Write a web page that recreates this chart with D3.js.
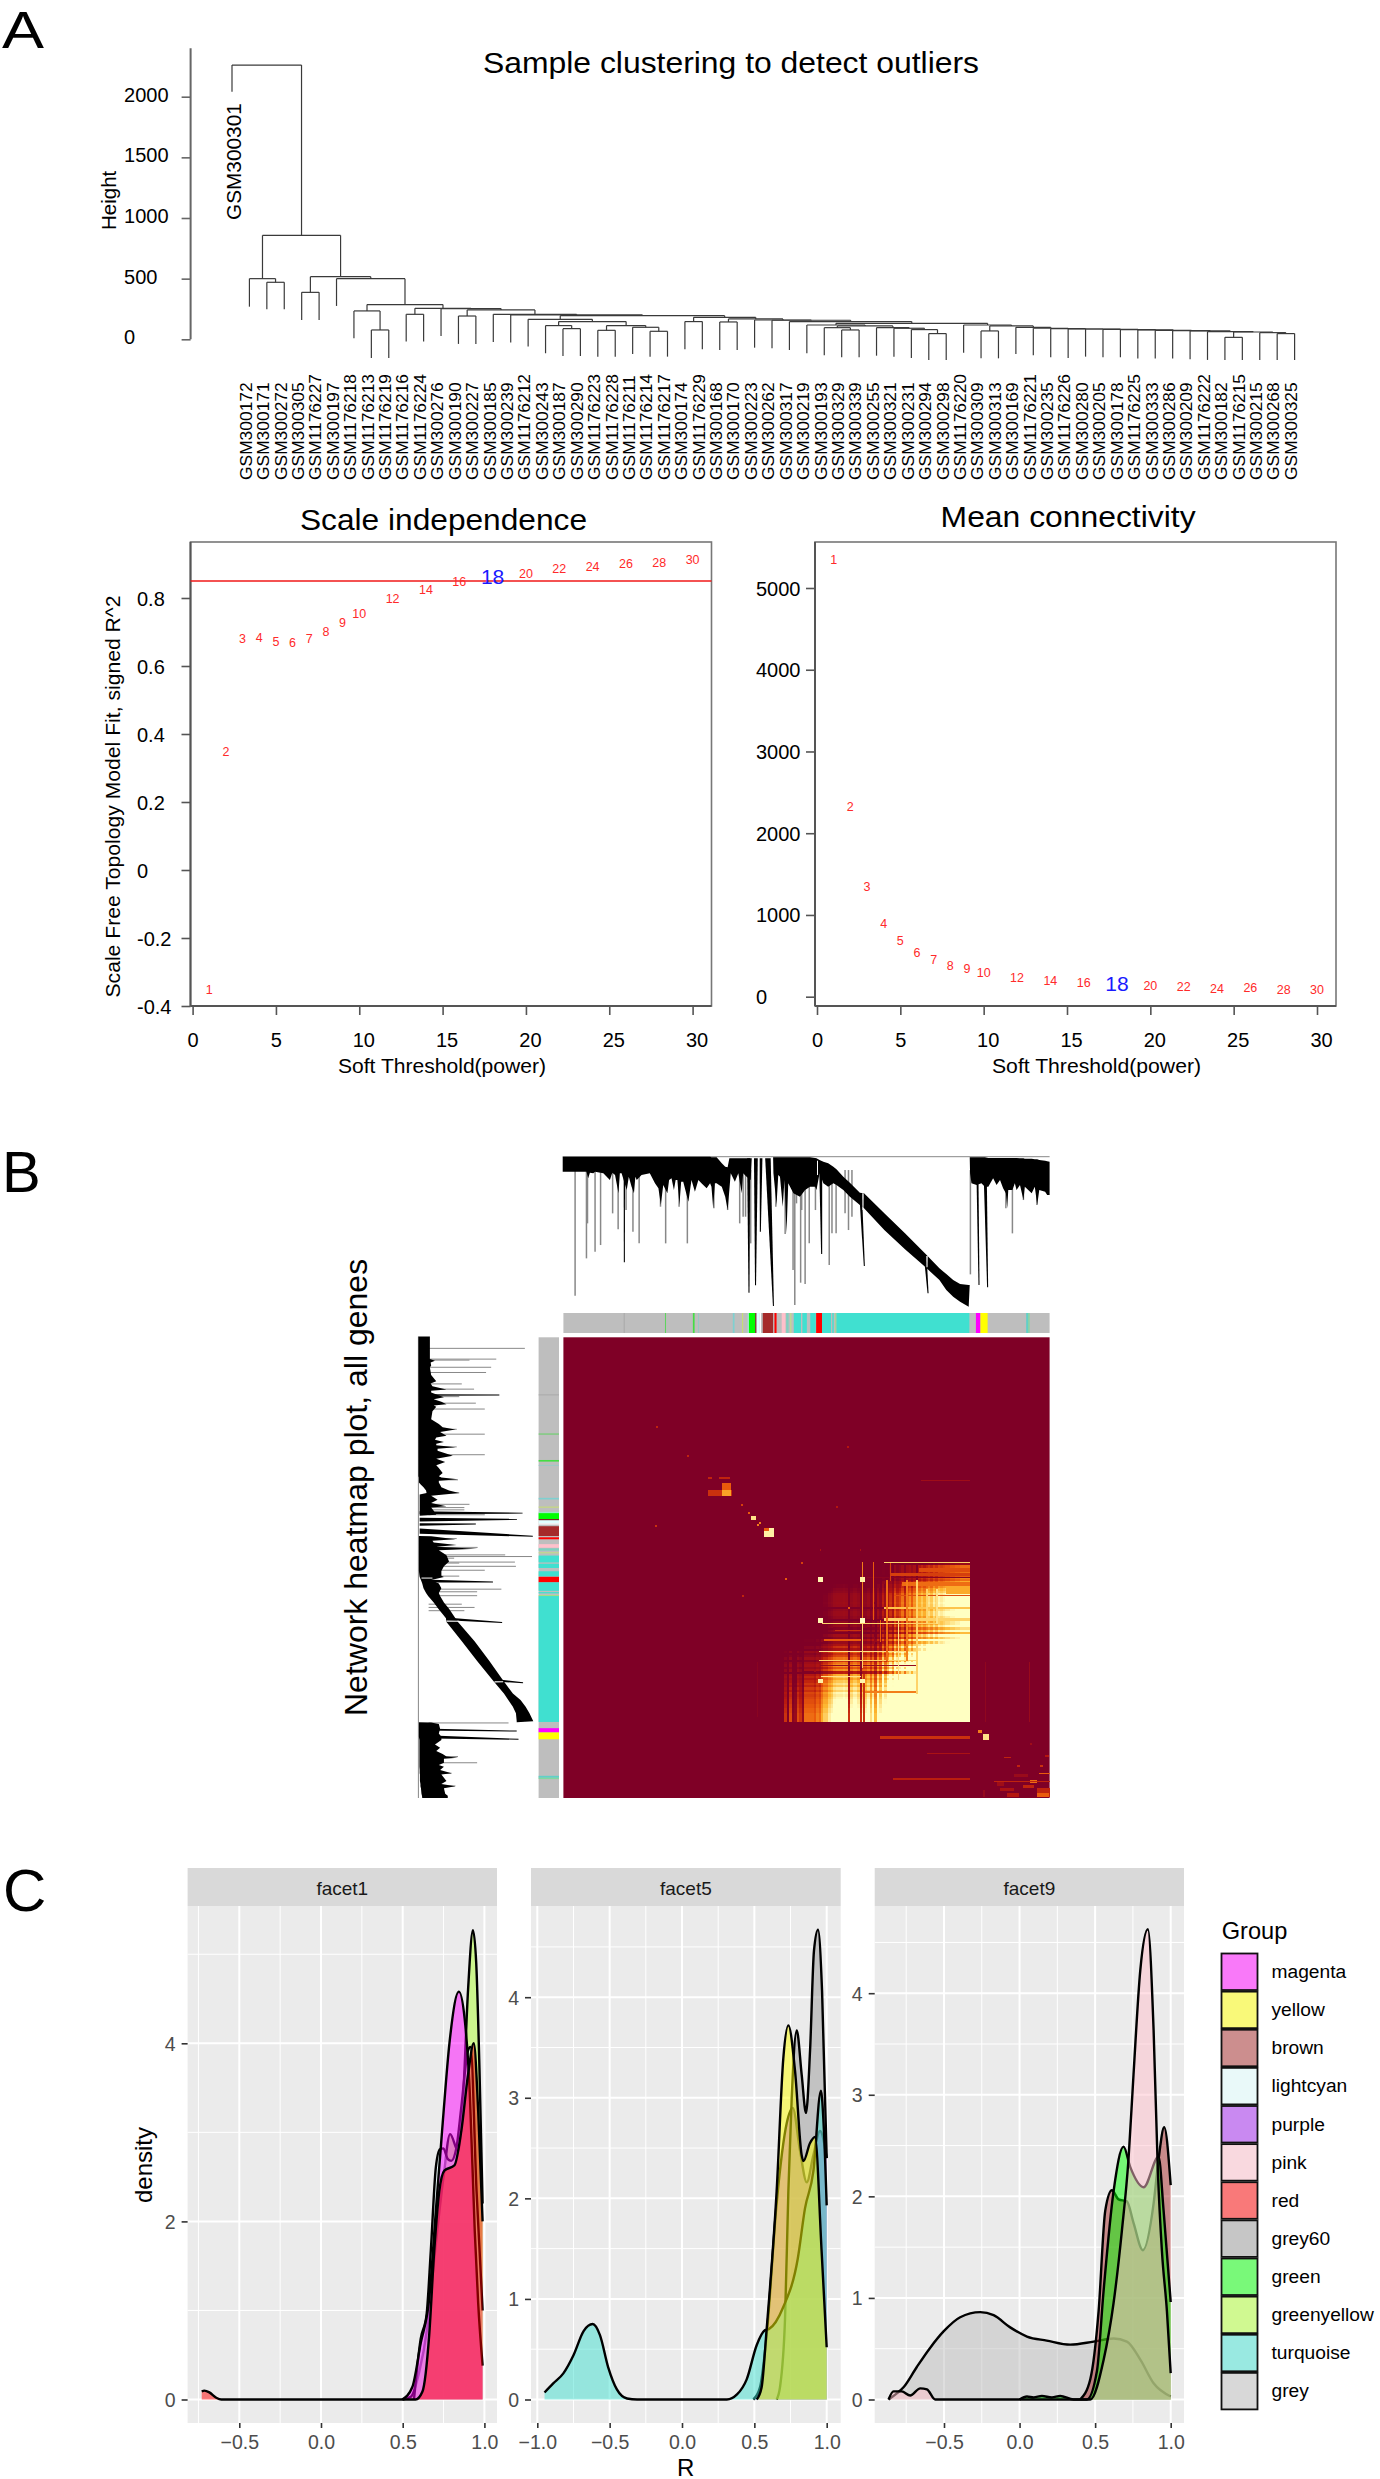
<!DOCTYPE html>
<html><head><meta charset="utf-8">
<script src="https://cdn.jsdelivr.net/npm/d3@7"></script>
<style>html,body{margin:0;padding:0;background:#fff}svg{display:block;font-family:"Liberation Sans",Arial,sans-serif}</style>
</head><body><script>
// ---------- Panel A: sample dendrogram ----------
const sampleNames=["GSM300301","GSM300172","GSM300171","GSM300272","GSM300305","GSM1176227","GSM300197","GSM1176218","GSM1176213","GSM1176219","GSM1176216","GSM1176224","GSM300276","GSM300190","GSM300227","GSM300185","GSM300239","GSM1176212","GSM300243","GSM300187","GSM300290","GSM1176223","GSM1176228","GSM1176211","GSM1176214","GSM1176217","GSM300174","GSM1176229","GSM300168","GSM300170","GSM300223","GSM300262","GSM300317","GSM300219","GSM300193","GSM300329","GSM300339","GSM300255","GSM300321","GSM300231","GSM300294","GSM300298","GSM1176220","GSM300309","GSM300313","GSM300169","GSM1176221","GSM300235","GSM1176226","GSM300280","GSM300205","GSM300178","GSM1176225","GSM300333","GSM300286","GSM300209","GSM1176222","GSM300182","GSM1176215","GSM300215","GSM300268","GSM300325"];
const leafEnds=[2041,269,247,247,159,159,275,8,-154,-154,-19,-19,27,-38,-38,-22,-27,-60,-115,-137,-137,-143,-143,-121,-143,-143,-82,-82,-88,-88,-69,-74,-88,-115,-132,-148,-148,-135,-143,-154,-170,-170,-110,-157,-157,-121,-132,-148,-154,-143,-148,-148,-159,-159,-159,-165,-170,-170,-170,-170,-170,-170];
const clusterLadderTail=[60,[16,57,58],[55,59,[47,60,61]]];
const clusterTail=[118,42,[110,[69,43,44],[99,45,[91,46,[88,47,[85,48,[85,49,[82,50,[80,51,[77,52,[74,53,[71,54,[69,55,[63,56,clusterLadderTail]]]]]]]]]]]]]];
const clusterMid=[118,33,[110,[96,34,[77,35,36]],[96,37,[91,38,[80,39,[47,40,41]]]]]];
const clusterEarly=[165,17,[146,[113,18,[88,19,20]],[113,[74,21,22],[99,23,[66,24,25]]]]];
const clusterChain=[195,clusterEarly,[181,[146,26,27],[168,[143,28,29],[159,30,[157,31,[146,32,[132,clusterMid,clusterTail]]]]]]];
const sampleTree=[2261,0,[857,[500,1,[470,2,3]],[516,[387,4,5],[500,6,[286,[234,7,[77,8,9]],[255,[206,10,11],[253,12,[242,[192,13,14],[206,15,[201,16,clusterChain]]]]]]]]]];
const heightTicks=[0,500,1000,1500,2000];

// ---------- Panel A: soft threshold ----------
const powers=[1,2,3,4,5,6,7,8,9,10,12,14,16,18,20,22,24,26,28,30];
const scaleFit=[-0.353,0.347,0.68,0.682,0.673,0.669,0.68,0.701,0.729,0.754,0.798,0.825,0.849,0.864,0.872,0.885,0.891,0.9,0.905,0.913];
const meanK=[5346,2331,1348,894,684,534,449,379,342,290,239,201,173,154,140,122,103,108,89,89];
const powerTicks=[0,5,10,15,20,25,30];
const fitTicks=[-0.4,-0.2,0,0.2,0.4,0.6,0.8];
const meanKTicks=[0,1000,2000,3000,4000,5000];
const chosenPower=18, fitCut=0.85;

// ---------- Panel B: gene tree outline, read as [gene rank, upper, lower] ----------
const geneTreeOutline=[[66,80,125],[135,80,125],[140,80,145],[145,80,128],[155,80,130],[160,80,125],[184,80,130],[203,80,150],[210,80,128],[218,80,135],[228,80,190],[232,80,130],[237,80,130],[252,80,180],[258,80,140],[266,80,170],[273,80,190],[277,80,140],[281,80,150],[295,80,135],[319,80,130],[334,80,160],[344,80,175],[351,80,225],[358,80,165],[370,80,190],[375,80,150],[382,80,145],[389,80,180],[394,80,150],[399,80,150],[405,80,225],[410,80,155],[416,80,155],[431,80,215],[440,80,150],[450,80,185],[460,80,150],[469,80,160],[484,80,175],[494,80,160],[498,82,170],[503,82,235],[508,82,160],[513,82,160],[520,90,165],[528,100,170],[538,110,200],[545,112,240],[550,85,180],[554,85,130],[566,85,155],[576,85,130],[586,85,190],[590,85,130],[600,85,140],[612,85,150],[615,85,85],
[677,82,82],[678,82,130],[687,82,225],[692,82,135],[697,82,140],[705,82,230],[710,82,150],[716,82,310],[721,82,160],[736,82,190],[755,82,200],[770,82,180],[784,82,170],[799,84,170],[803,85,180],[812,90,130],[823,95,160],[837,100,170],[852,110,160],[861,118,165],[881,140,180],[900,158,200],[929,188,225],[941,190,235],[1000,250,300],[1060,310,358],[1120,372,412],[1160,415,450],[1180,432,480],[1200,450,500],[1220,462,515],[1245,465,530],[1248,465,465],
[1248,82,82],[1249,82,130],[1253,82,160],[1268,82,165],[1282,82,160],[1292,82,170],[1302,84,170],[1316,84,145],[1326,84,165],[1336,84,150],[1345,84,175],[1353,84,190],[1357,84,235],[1360,84,180],[1372,84,180],[1379,84,160],[1384,84,180],[1394,85,165],[1404,85,210],[1408,86,170],[1428,86,190],[1437,88,170],[1444,88,225],[1450,90,180],[1467,92,185],[1473,94,195],[1480,95,195]];
const geneTreeWedges=[[606,85,607,488,9],[627,85,626,466,11],[642,85,640,305,8],[662,85,678,528,16],[815,95,818,372,9],[931,190,942,408,8],[1119,380,1127,490,8],[1270,100,1275,465,6],[1292,85,1300,472,10],[245,120,245,397,4]];
const geneTreeNotches=[[938,190,938,240,4],[1124,378,1124,412,4],[806,92,806,135,3]];
const geneTreeDrops=[[102,497],[135,385],[138,280],[160,365],[176,345],[211,250],[227,298],[250,240],[270,305],[288,340],[365,340],[350,230],[404,230],[428,340],[505,235],[545,240],[580,280],[590,260],[597,260],[612,340],[685,230],[712,312],[735,420],[740,525],[745,220],[757,458],[770,462],[782,340],[760,240],[800,240],[840,405],[848,310],[860,310],[886,250],[896,300],[906,260],[1250,433],[1372,310],[1353,235],[1404,210],[1443,225]];
const moduleBands=[[243,246,"#a9a9a9"],[363,366,"#5fd35f"],[444,449,"#44dd44"],[459,462,"#9ac8c8"],[560,565,"#7fd0d0"],[587,590,"#c8e070"],[603,607,"#9ce8c8"],[607,625,"#00ff00"],[625,628,"#7a2020"],[630,638,"#e0ffff"],[638,642,"#ffffff"],[647,677,"#a52a2a"],[681,687,"#ff0000"],[702,713,"#ffc0cb"],[715,722,"#7fd0c0"],[727,730,"#c0e080"],[737,758,"#40e0d0"],[762,775,"#40e0d0"],[785,801,"#40e0d0"],[802,819,"#ff0000"],[819,845,"#40e0d0"],[849,853,"#40e0d0"],[858,861,"#a0e080"],[861,1247,"#40e0d0"],[1266,1278,"#ff00ff"],[1278,1280,"#f0b060"],[1280,1300,"#ffff00"],[1412,1418,"#60d0c8"],[1418,1422,"#80d8a0"]];
// hub score per gene-rank bin, ranks 703..1247
const hubFirstRank=703, hubLastRank=1247, hubFirstRow=8;
const hubScore=[.4,.58,.45,.6,.5,.52,.6,.58,.52,.62,.62,.62,.62,.61,.63,.62,.65,.67,.67,.69,.7,.72,.725,.725,.725,.73,.725,.58,.71,.725,.725,.71,.58,.7,.7,.72,.68,.72,.66,.74,.7,.78,.72,.76,.8,.76,.84,.8,.82,.86,.8,.86,.88,.84,.88,.78,.9,.92,.9,.92,.94,.92,.95,.93,.96,.95,.96,.97,.97,.98,.98,.99,.99,1,1,1,1];
// extra cells: [row0,row1,col0,col1,level]
const heatPatches=[[536,554,489,556,.35],[515,536,530,553,.5],[536,554,530,553,.7],[495,500,489,500,.3],[495,500,520,550,.3],[616,626,612,626,.9],[653,679,650,678,.95],[653,662,650,664,.5],[640,644,630,634,.6],
[758,760,1000,1247,.85],[775,785,1100,1247,.45],[790,800,1020,1247,.4],[802,806,950,1247,.05],[817,830,1050,1247,.55],[830,853,1180,1247,.72],[857,860,1027,1247,.45],
[894,901,1000,1247,.8],[929,936,1000,1247,.85],[994,998,824,930,.5],[965,968,856,930,.35],[1030,1032,810,1095,.9],[1056,1058,810,1095,.85],[1071,1074,814,1095,.1],[1107,1109,815,930,.9],[1153,1156,940,1095,.6],
[935,1118,1040,1043,.9],[812,1159,1093,1096,.85],[812,1060,1064,1067,.6],[812,1060,1006,1009,.55],[756,935,967,970,.5],[935,1000,987,990,.5],[840,945,1122,1125,.85],[840,945,1151,1154,.9],[760,815,1016,1019,.4],
[756,930,934,937,.6],[945,1080,934,937,.85],[1100,1247,939,942,.35],
[803,818,806,820,.97],[803,818,930,944,.95],[928,943,806,820,.97],[928,943,930,944,1],[1116,1128,806,820,.95],[1116,1128,930,944,.97],[943,947,820,1150,.85],
[1290,1297,988,1247,.35],[1341,1344,1125,1247,.2],[1420,1423,1026,1247,.28],[505,508,1107,1247,.15],[1062,1247,1292,1295,.08],[1062,1247,1420,1423,.12],[1062,1230,630,633,.05],[1285,1301,1287,1302,.9],[1271,1280,1273,1283,.6],
[1353,1358,1347,1366,.3],[1425,1432,1424,1443,.55],[1402,1407,1448,1480,.5],[1428,1431,1318,1480,.3],[1378,1384,1453,1460,.35],[1348,1354,1468,1478,.25],[1380,1385,1385,1392,.3],[1310,1316,1424,1428,.15],[1450,1458,1337,1376,.2],[1440,1448,1404,1433,.3],[1450,1476,1443,1480,.3],[1466,1476,1444,1477,.5],[1466,1476,1356,1390,.25],[1455,1476,1288,1292,.1],[1430,1443,1327,1347,.15],[1405,1415,1376,1415,.12],
[585,590,859,864,.25],[807,812,711,716,.5],[757,762,757,762,.4],[858,862,588,592,.3],[895,900,895,900,.5],[718,722,812,816,.2],[718,722,928,932,.2],[580,585,585,590,.4],[604,609,604,609,.5],[634,639,636,641,.6],[340,345,337,342,.3],[429,434,427,432,.3],[644,648,334,338,.35],[401,405,892,896,.25]];
const heatStops=[0,.25,.5,.75,1];
const heatColors=["#7f0026","#b5160f","#ea5a0c","#fdb52e","#ffffc2"];
const hubProductStops=[.48,.55,.62,.7], hubLevelStops=[0,.2,.55,1];

// ---------- Panel C: densities ----------
const groupNames=["magenta","yellow","brown","lightcyan","purple","pink","red","grey60","green","greenyellow","turquoise","grey"];
const groupColors=["#ff00ff","#ffff00","#a52a2a","#e0ffff","#a020f0","#ffc0cb","#ff0000","#999999","#00ff00","#adff2f","#40e0d0","#bebebe"];
const f1Greenyellow=[[.5,0],[.55,.03],[.6,.3],[.65,.8],[.7,1.7],[.75,2.5],[.79,2.98],[.84,2.79],[.87,3.4],[.9,4.6],[.93,5.27],[.95,4.9],[.97,3.7],[.989,2.2]];
const f1Magenta=[[.497,0],[.559,.14],[.61,.63],[.662,1.13],[.703,2.12],[.745,3.11],[.786,4],[.844,4.58],[.879,4.28],[.91,3.47],[.941,1.89],[.962,1.08],[.989,.38]];
const f1Lightcyan=[[.569,0],[.61,.68],[.646,.95],[.672,1.67],[.703,2.61],[.728,2.81],[.749,2.82],[.776,2.7],[.797,2.68],[.828,2.82],[.859,3.29],[.9,3.92],[.915,3.96],[.952,2.34],[.989,1]];
const f1Red=[[-.73,.09],[-.714,.1],[-.683,.08],[-.641,.02],[-.61,0],[.579,0],[.621,.09],[.662,.72],[.693,1.67],[.724,2.34],[.755,2.57],[.817,2.63],[.859,3.02],[.9,3.65],[.935,4],[.962,3.24],[.989,2]];
const f5Purple=[[.493,0],[.539,.12],[.585,.64],[.654,1.95],[.724,2.75],[.765,2.9],[.816,2.47],[.862,2.16],[.908,2.43],[.954,2.67],[1,2.4]];
const f5Grey60=[[.654,0],[.677,.12],[.712,.8],[.735,2.07],[.758,2.99],[.793,3.67],[.827,3.23],[.857,2.85],[.885,3.47],[.912,4.46],[.94,4.67],[.968,4.06],[1,2.4]];
const f5Turquoise=[[-.95,.07],[-.89,.16],[-.82,.26],[-.75,.44],[-.68,.68],[-.617,.75],[-.567,.64],[-.51,.32],[-.45,.1],[-.38,.01],[-.31,0],[.31,0],[.38,.05],[.447,.2],[.516,.54],[.574,.69],[.6,.7],[.7,.92],[.8,1.4],[.85,1.9],[.908,2.27],[.96,3.07],[.98,2.7],[1,1.93]];
const f5Yellow=[[.516,0],[.55,.12],[.585,.7],[.654,2.07],[.7,3.39],[.735,3.72],[.781,3.27],[.827,2.43],[.839,2.37],[.885,2.55],[.919,2.61],[.965,1.47],[1,.52]];
const f9Grey=[[-.867,0],[-.812,.06],[-.768,.12],[-.68,.32],[-.591,.51],[-.503,.67],[-.393,.81],[-.26,.86],[-.172,.83],[-.062,.71],[.049,.62],[.18,.58],[.335,.54],[.49,.57],[.622,.6],[.71,.57],[.8,.39],[.887,.16],[1,.03]];
const f9Brown=[[.401,0],[.468,.2],[.523,.87],[.567,1.86],[.611,2.06],[.655,1.97],[.71,1.95],[.754,1.74],[.816,1.47],[.887,1.93],[.92,2.37],[.957,2.68],[1,2.11]];
const f9Green=[[0,0],[.049,.03],[.093,.02],[.148,.035],[.214,.02],[.269,.035],[.357,0],[.446,0],[.512,.28],[.556,1.07],[.622,2.05],[.688,2.49],[.732,2.29],[.821,2.09],[.92,2.39],[.953,1.86],[1,.96]];
const f9Pink=[[-.867,0],[-.834,.08],[-.78,.08],[-.724,.04],[-.657,.11],[-.613,.1],[-.558,0],[-.4,0],[.4,0],[.468,0],[.556,.39],[.622,.95],[.677,1.66],[.721,2.37],[.754,3.2],[.799,4.23],[.849,4.63],[.887,3.63],[.915,2.25],[.942,1.46],[.975,.87],[1,.26]];

const svg=d3.select("body").append("svg").attr("width",1380).attr("height",2479).attr("viewBox","0 0 1380 2479");
function txt(g,x,y,s,o={}){
  const t=g.append("text").attr("transform",`translate(${x},${y}) rotate(${o.rot||0})`).attr("font-size",o.size||20)
    .attr("text-anchor",o.anchor||"start").attr("fill",o.fill||"#000").text(s);
  if(o.len) t.attr("textLength",o.len).attr("lengthAdjust","spacingAndGlyphs");
  return t;
}
txt(svg,2,47.5,"A",{size:52,len:42});
txt(svg,2,1192,"B",{size:58});
txt(svg,3,1911,"C",{size:60});

// ---- Sample clustering
(function(){
  const g=svg.append("g");
  const leafX=d3.scaleLinear().domain([0,61]).range([232,1294.6]);
  const hY=d3.scaleLinear().domain([0,2000]).range([339.3,96.7]);
  const segs=[];
  function walk(n){
    if(typeof n==="number") return {x:leafX(n),h:leafEnds[n]};
    const a=walk(n[1]),b=walk(n[2]),h=n[0];
    segs.push([a.x,h,b.x,h],[a.x,h,a.x,a.h],[b.x,h,b.x,b.h]);
    return {x:(a.x+b.x)/2,h};
  }
  walk(sampleTree);
  g.selectAll("line.d").data(segs).join("line").attr("class","d")
    .attr("x1",d=>d[0]).attr("x2",d=>d[2]).attr("y1",d=>hY(d[1])).attr("y2",d=>hY(d[3]))
    .attr("stroke","#3a3a3a").attr("stroke-width",1.2);
  const ax=g.append("g").attr("transform","translate(190.6,0)").call(d3.axisLeft(hY).tickValues(heightTicks).tickSize(9).tickFormat(d3.format("d")));
  ax.select(".domain").remove();
  ax.selectAll("line").attr("stroke","#666").attr("stroke-width",1.6);
  ax.selectAll("text").attr("x",124-190.6).attr("dy",".22em").attr("text-anchor","start").attr("font-size",20).attr("font-family",'"Liberation Sans"').attr("fill","#000");
  g.append("line").attr("x1",190.6).attr("x2",190.6).attr("y1",hY(2400)).attr("y2",hY(0)).attr("stroke","#666").attr("stroke-width",2);
  txt(g,116,230,"Height",{size:20.5,rot:-90});
  txt(g,483,72.7,"Sample clustering to detect outliers",{size:30,len:496});
  sampleNames.forEach((n,i)=>{
    if(i===0) txt(g,241,220,n,{size:20.8,rot:-90});
    else txt(g,leafX(i)+2.3,480,n,{size:17.4,rot:-90});
  });
})();

// ---- Soft threshold plots
function softPlot(o){
  const g=svg.append("g");
  const x=d3.scaleLinear().domain([0,30]).range(o.xr);
  const y=d3.scaleLinear().domain(o.yd).range(o.yr);
  g.append("rect").attr("x",o.box[0]).attr("y",o.box[1]).attr("width",o.box[2]-o.box[0]).attr("height",o.box[3]-o.box[1]).attr("fill","none").attr("stroke","#777").attr("stroke-width",1.6);
  const ay=g.append("g").attr("transform",`translate(${o.box[0]},0)`).call(d3.axisLeft(y).tickValues(o.yt).tickSize(9).tickFormat(o.fmt));
  ay.select(".domain").remove();
  ay.selectAll("line").attr("stroke","#555").attr("stroke-width",1.6);
  ay.selectAll("text").attr("x",o.tickLeft-o.box[0]).attr("dy",".35em").attr("text-anchor","start").attr("font-size",20).attr("font-family",'"Liberation Sans"').attr("fill","#000");
  const ax=g.append("g").attr("transform",`translate(0,${o.box[3]})`).call(d3.axisBottom(x).tickValues(powerTicks).tickSize(9));
  ax.select(".domain").remove();
  ax.selectAll("line").attr("stroke","#555").attr("stroke-width",1.6);
  ax.selectAll("text").attr("y",27).attr("dx",d=>d>=10?4:0).attr("font-size",20).attr("font-family",'"Liberation Sans"').attr("fill","#000");
  g.append("line").attr("x1",o.box[0]).attr("x2",o.box[0]).attr("y1",o.box[1]).attr("y2",o.box[3]).attr("stroke","#555").attr("stroke-width",2);
  g.append("line").attr("x1",o.box[0]).attr("x2",o.box[2]).attr("y1",o.box[3]).attr("y2",o.box[3]).attr("stroke","#555").attr("stroke-width",2);
  if(o.cut!==undefined) g.append("line").attr("x1",o.box[0]).attr("x2",o.box[2]).attr("y1",y(o.cut)).attr("y2",y(o.cut)).attr("stroke","#f01818").attr("stroke-width",1.3);
  g.selectAll("text.p").data(powers).join("text").attr("class","p")
    .attr("x",d=>x(d)).attr("y",(d,i)=>y(o.vals[i]))
    .attr("dy",".35em").attr("text-anchor","middle")
    .attr("font-size",d=>d===chosenPower?21:12.5)
    .attr("fill",d=>d===chosenPower?"#1a1aff":"#ff2a2a")
    .text(d=>d);
  txt(g,o.titleX,o.titleY,o.title,{size:29,len:o.titleLen});
  txt(g,o.xlabX,1073,"Soft Threshold(power)",{size:20,len:o.xlabLen});
  if(o.ylab) txt(g,120,997.5,o.ylab,{size:20,rot:-90,len:402});
}
softPlot({xr:[192.6,692.6],yd:[-0.4,0.8],yr:[1006,598],box:[190.5,542,711.5,1006],vals:scaleFit,yt:fitTicks,fmt:d=>d===0?"0":d3.format(".1f")(d).replace("−","-"),tickLeft:137,cut:fitCut,title:"Scale independence",titleX:300,titleY:530,titleLen:287,xlabX:338,xlabLen:208,ylab:"Scale Free Topology Model Fit, signed R^2"});
softPlot({xr:[817,1317],yd:[0,5000],yr:[996.7,588],box:[815,542,1336,1006],vals:meanK,yt:meanKTicks,fmt:d3.format("d"),tickLeft:756,title:"Mean connectivity",titleX:940.6,titleY:527,titleLen:255,xlabX:992,xlabLen:209});

// ---- Network heatmap
(function(){
  const g=svg.append("g");
  function drawTree(pos,dropW){
    const t=g.append("g");
    const line=d3.line();
    const pts=geneTreeOutline.map(d=>pos(d[0],d[1])).concat(geneTreeOutline.slice().reverse().map(d=>pos(d[0],d[2])));
    t.selectAll("line.drop").data(geneTreeDrops).join("line").attr("class","drop")
      .attr("x1",d=>pos(d[0],120)[0]).attr("y1",d=>pos(d[0],120)[1]).attr("x2",d=>pos(d[0],d[1])[0]).attr("y2",d=>pos(d[0],d[1])[1])
      .attr("stroke","#888").attr("stroke-width",dropW);
    t.append("path").attr("d",line(pts)+"Z").attr("fill","#000");
    const wedge=d=>line([pos(d[0]-d[4]/2,d[1]),pos(d[0]+d[4]/2,d[1]),pos(d[2]+1.5,d[3]),pos(d[2]-1.5,d[3])])+"Z";
    t.selectAll("path.w").data(geneTreeWedges).join("path").attr("class","w").attr("d",wedge).attr("fill","#000");
    t.selectAll("path.n").data(geneTreeNotches).join("path").attr("class","n").attr("d",wedge).attr("fill","#fff");
  }
  const topR=d3.scaleLinear().domain([66,1480]).range([562.7,1049.6]);
  const topD=d3.scaleLinear().domain([80,530]).range([1156.7,1306.7]);
  const leftR=d3.scaleLinear().domain([66,1480]).range([1336.6,1798]);
  const leftD=d3.scaleLinear().domain([80,530]).range([418.4,533.3]);
  g.append("line").attr("x1",topR(66)).attr("x2",topR(1480)).attr("y1",topD(80)).attr("y2",topD(80)).attr("stroke","#888").attr("stroke-width",1);
  g.append("line").attr("x1",leftD(80)).attr("x2",leftD(80)).attr("y1",leftR(66)).attr("y2",leftR(1480)).attr("stroke","#888").attr("stroke-width",1);
  drawTree((r,d)=>[topR(r),topD(d)],1.5);
  drawTree((r,d)=>[leftD(d),leftR(r)],1);

  // module colour bars
  const barX=d3.scaleLinear().domain([68,1480]).range([563.4,1049.6]);
  const barY=d3.scaleLinear().domain([68,1480]).range([1337.3,1798]);
  g.append("rect").attr("x",barX(68)).attr("y",1313).attr("width",barX(1480)-barX(68)).attr("height",20).attr("fill","#bebebe");
  g.selectAll("rect.mt").data(moduleBands).join("rect").attr("class","mt").attr("x",d=>barX(d[0])).attr("width",d=>barX(d[1])-barX(d[0])).attr("y",1313).attr("height",20).attr("fill",d=>d[2]);
  g.append("rect").attr("x",538.6).attr("y",barY(68)).attr("width",20.4).attr("height",barY(1480)-barY(68)).attr("fill","#bebebe");
  g.selectAll("rect.ml").data(moduleBands).join("rect").attr("class","ml").attr("y",d=>barY(d[0])).attr("height",d=>barY(d[1])-barY(d[0])).attr("x",538.6).attr("width",20.4).attr("fill",d=>d[2]);

  // heatmap
  const col=d3.scaleLinear().domain(heatStops).range(heatColors).clamp(true);
  g.append("rect").attr("x",barX(68)).attr("y",barY(68)).attr("width",barX(1480)-barX(68)).attr("height",barY(1480)-barY(68)).attr("fill",col(0));
  const hubEdge=d3.scaleLinear().domain([0,hubScore.length]).range([hubFirstRank,hubLastRank]);
  const level=d3.scaleLinear().domain(hubProductStops).range(hubLevelStops).clamp(true);
  const cells=[];
  hubScore.forEach((qr,i)=>{ if(i<hubFirstRow) return; hubScore.forEach((qc,j)=>{ const t=level(qr*qc); if(t>0) cells.push([hubEdge(i),hubEdge(i+1),hubEdge(j),hubEdge(j+1),t]); }); });
  const all=cells.concat(heatPatches);
  g.append("g").attr("shape-rendering","crispEdges").selectAll("rect").data(all).join("rect")
    .attr("x",d=>barX(d[2])).attr("width",d=>barX(d[3])-barX(d[2])+.3)
    .attr("y",d=>barY(d[0])).attr("height",d=>barY(d[1])-barY(d[0])+.3)
    .attr("fill",d=>col(d[4]));
  txt(g,367,1716,"Network heatmap plot, all genes",{size:32,rot:-90});
})();

// ---- Density facets
const layer=(name,pts)=>({name,pts});
const facets=[
 {label:"facet1",x:[187.6,497],xMap:[[-.5,1],[239.3,484.4]],yMap:[[0,4],[2399.5,2043.3]],xt:[-.5,0,.5,1],xm:[-.75,-.25,.25,.75],yt:[0,2,4],ym:[1,3,5],
  layers:[layer("greenyellow",f1Greenyellow),layer("lightcyan",f1Lightcyan),layer("magenta",f1Magenta),layer("red",f1Red)]},
 {label:"facet5",x:[531,840.7],xMap:[[-1,1],[537.3,826.7]],yMap:[[0,4],[2399.5,1997.2]],xt:[-1,-.5,0,.5,1],xm:[-.75,-.25,.25,.75],yt:[0,1,2,3,4],ym:[.5,1.5,2.5,3.5,4.5],
  layers:[layer("purple",f5Purple),layer("grey60",f5Grey60),layer("turquoise",f5Turquoise),layer("yellow",f5Yellow)]},
 {label:"facet9",x:[874.7,1184],xMap:[[-.5,1],[944,1170.7]],yMap:[[0,4],[2399.5,1993.2]],xt:[-.5,0,.5,1],xm:[-.75,-.25,.25,.75],yt:[0,1,2,3,4],ym:[.5,1.5,2.5,3.5,4.5],
  layers:[layer("grey",f9Grey),layer("brown",f9Brown),layer("green",f9Green),layer("pink",f9Pink)]}
];
const panelTop=1906,panelBottom=2423,stripTop=1868;
facets.forEach(f=>{
  const g=svg.append("g");
  const x=d3.scaleLinear().domain(f.xMap[0]).range(f.xMap[1]);
  const y=d3.scaleLinear().domain(f.yMap[0]).range(f.yMap[1]);
  const w=f.x[1]-f.x[0];
  g.append("rect").attr("x",f.x[0]).attr("y",stripTop).attr("width",w).attr("height",panelTop-stripTop).attr("fill","#d9d9d9");
  g.append("rect").attr("x",f.x[0]).attr("y",panelTop).attr("width",w).attr("height",panelBottom-panelTop).attr("fill","#ebebeb");
  txt(g,(f.x[0]+f.x[1])/2,1894.5,f.label,{size:19,anchor:"middle",fill:"#1a1a1a"});
  g.selectAll("line.xm").data(f.xm).join("line").attr("class","xm").attr("x1",x).attr("x2",x).attr("y1",panelTop).attr("y2",panelBottom).attr("stroke","#fff").attr("stroke-width",1);
  g.selectAll("line.ym").data(f.ym).join("line").attr("class","ym").attr("y1",y).attr("y2",y).attr("x1",f.x[0]).attr("x2",f.x[1]).attr("stroke","#fff").attr("stroke-width",1);
  g.selectAll("line.xt").data(f.xt).join("line").attr("class","xt").attr("x1",x).attr("x2",x).attr("y1",panelTop).attr("y2",panelBottom).attr("stroke","#fff").attr("stroke-width",2);
  g.selectAll("line.yt").data(f.yt).join("line").attr("class","yt").attr("y1",y).attr("y2",y).attr("x1",f.x[0]).attr("x2",f.x[1]).attr("stroke","#fff").attr("stroke-width",2);
  const area=d3.area().x(d=>x(d[0])).y0(y(0)).y1(d=>y(d[1])).curve(d3.curveMonotoneX);
  const line=d3.line().x(d=>x(d[0])).y(d=>y(d[1])).curve(d3.curveMonotoneX);
  f.layers.forEach(l=>{
    const c=groupColors[groupNames.indexOf(l.name)];
    g.append("path").attr("d",area(l.pts)).attr("fill",c).attr("fill-opacity",.5);
    g.append("path").attr("d",line(l.pts)).attr("fill","none").attr("stroke","#000").attr("stroke-width",2.4);
  });
  const ax=g.append("g").attr("transform",`translate(0,${panelBottom})`).call(d3.axisBottom(x).tickValues(f.xt).tickSize(5).tickFormat(d3.format(".1f")));
  ax.select(".domain").remove();
  ax.selectAll("line").attr("stroke","#333").attr("stroke-width",1.6);
  ax.selectAll("text").attr("y",12).attr("font-size",19.5).attr("font-family",'"Liberation Sans"').attr("fill","#4d4d4d");
  const ay=g.append("g").attr("transform",`translate(${f.x[0]},0)`).call(d3.axisLeft(y).tickValues(f.yt).tickSize(6).tickFormat(d3.format("d")));
  ay.select(".domain").remove();
  ay.selectAll("line").attr("stroke","#333").attr("stroke-width",1.6);
  ay.selectAll("text").attr("x",-12).attr("dy",".35em").attr("font-size",19.5).attr("font-family",'"Liberation Sans"').attr("fill","#4d4d4d");
});
txt(svg,152,2165,"density",{size:24,rot:-90,anchor:"middle"});
txt(svg,685.7,2476,"R",{size:24,anchor:"middle"});

// ---- Legend
(function(){
  const g=svg.append("g");
  txt(g,1221.7,1939,"Group",{size:23.6});
  const keyY=d3.scaleBand().domain(groupNames).range([1953.5,2411]);
  const item=g.selectAll("g.k").data(groupNames).join("g").attr("class","k").attr("transform",d=>`translate(1221.5,${keyY(d)})`);
  const h=keyY.bandwidth()-1.6;
  item.append("rect").attr("width",36).attr("height",h).attr("fill","#f2f2f2");
  item.append("rect").attr("width",36).attr("height",h).attr("fill",(d,i)=>groupColors[i]).attr("fill-opacity",.5).attr("stroke","#111").attr("stroke-width",1.8);
  item.append("text").attr("x",50).attr("y",h/2).attr("dy",".33em").attr("font-size",19.2).text(d=>d);
})();
</script></body></html>
